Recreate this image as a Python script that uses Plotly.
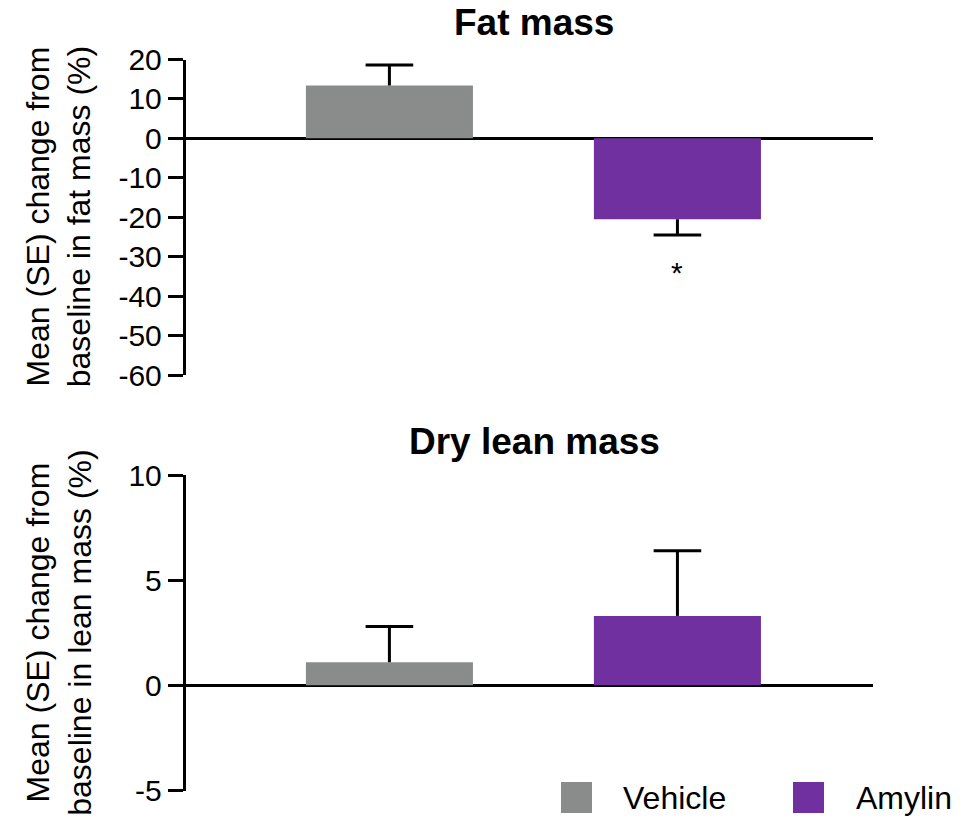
import plotly.graph_objects as go

# Treatment groups and bar colours
groups = ["Vehicle", "Amylin"]
colors = ["#8a8c8c", "#7030a0"]

# Percent change from baseline, mean and standard error
fat_mean = [13.4, -20.5]
fat_se = [5.2, 4.0]
lean_mean = [1.1, 3.3]
lean_se = [1.7, 3.1]

# Significance marker for the fat-mass panel (vs vehicle)
sig_group = "Amylin"
sig_text = "*"
sig_y = -34.0

# Axis ticks
fat_ticks = [20, 10, 0, -10, -20, -30, -40, -50, -60]
lean_ticks = [10, 5, 0, -5]

panel_titles = ["Fat mass", "Dry lean mass"]
y_titles = [
    "Mean (SE) change from<br>baseline in fat mass (%)",
    "Mean (SE) change from<br>baseline in lean mass (%)",
]

FONT = "Liberation Sans, Arial, sans-serif"
W, H = 971, 819

fig = go.Figure()


def add_panel(means, ses, xa, ya):
    for g, m, c in zip(groups, means, colors):
        fig.add_trace(go.Bar(
            x=[g], y=[m], width=0.58, marker=dict(color=c, line=dict(width=0)),
            xaxis=xa, yaxis=ya, showlegend=False, hoverinfo="skip",
        ))
    # one-sided SE bars pointing away from zero
    tips = [m + s if m >= 0 else m - s for m, s in zip(means, ses)]
    up = [s if m < 0 else 0 for m, s in zip(means, ses)]
    down = [s if m >= 0 else 0 for m, s in zip(means, ses)]
    fig.add_trace(go.Scatter(
        x=groups, y=tips, mode="markers", xaxis=xa, yaxis=ya, showlegend=False,
        marker=dict(symbol="line-ew", size=34, color="black",
                    line=dict(width=3, color="black")),
        error_y=dict(type="data", symmetric=False, array=up, arrayminus=down,
                     width=0, thickness=3, color="black"),
        hoverinfo="skip",
    ))


add_panel(fat_mean, fat_se, "x", "y")
add_panel(lean_mean, lean_se, "x2", "y2")

x_dom = [185.5 / W, 872.7 / W]
top_dom = [1 - 375 / H, 1 - 59.5 / H]
bot_dom = [1 - 790.5 / H, 1 - 475 / H]

xcommon = dict(type="category", categoryorder="array", categoryarray=groups,
               range=[-0.708, 1.678], visible=False, domain=x_dom)
ycommon = dict(showgrid=False, showline=True, linecolor="black", linewidth=2.5,
               ticks="outside", ticklen=15, tickwidth=2.5, tickcolor="black",
               zeroline=True, zerolinecolor="black", zerolinewidth=3,
               tickfont=dict(family=FONT, size=30, color="black"),
               automargin=False)

fig.update_layout(
    width=W, height=H, autosize=False,
    margin=dict(l=0, r=0, t=0, b=0),
    paper_bgcolor="white", plot_bgcolor="white",
    barmode="overlay", showlegend=False,
    font=dict(family=FONT, color="black"),
    xaxis=dict(anchor="y", **xcommon),
    xaxis2=dict(anchor="y2", **xcommon),
    yaxis=dict(anchor="x", domain=top_dom, range=[-60, 20],
               tickvals=fat_ticks, ticktext=[str(v) for v in fat_ticks], **ycommon),
    yaxis2=dict(anchor="x2", domain=bot_dom, range=[-5, 10],
                tickvals=lean_ticks, ticktext=[str(v) for v in lean_ticks], **ycommon),
)

# Panel titles
for title, ypix in zip(panel_titles, [22.5, 441]):
    fig.add_annotation(text="<b>%s</b>" % title, x=534 / W, y=1 - ypix / H,
                       xref="paper", yref="paper", xanchor="center", yanchor="middle",
                       showarrow=False, font=dict(family=FONT, size=37, color="black"))

# Y-axis titles
for title, dom in zip(y_titles, [top_dom, bot_dom]):
    fig.add_annotation(text=title, textangle=-90, x=59 / W, y=sum(dom) / 2,
                       xref="paper", yref="paper", xanchor="center", yanchor="middle",
                       showarrow=False, font=dict(family=FONT, size=32, color="black"))

# Significance marker
fig.add_annotation(text=sig_text, x=sig_group, y=sig_y, xref="x", yref="y",
                   showarrow=False, yanchor="middle",
                   font=dict(family=FONT, size=30, color="black"))

# Legend: colour swatches with labels
legend_x = [561, 793]
text_x = [621, 854]
for g, c, lx, tx in zip(groups, colors, legend_x, text_x):
    fig.add_shape(type="rect", xref="paper", yref="paper",
                  x0=lx / W, x1=(lx + 31) / W, y0=1 - 813 / H, y1=1 - 782 / H,
                  fillcolor=c, line=dict(width=0))
    fig.add_annotation(text=g, x=tx / W, y=1 - 797.5 / H, xref="paper", yref="paper",
                       xanchor="left", yanchor="middle", showarrow=False,
                       font=dict(family=FONT, size=32, color="black"))

fig.write_html("out.html")
